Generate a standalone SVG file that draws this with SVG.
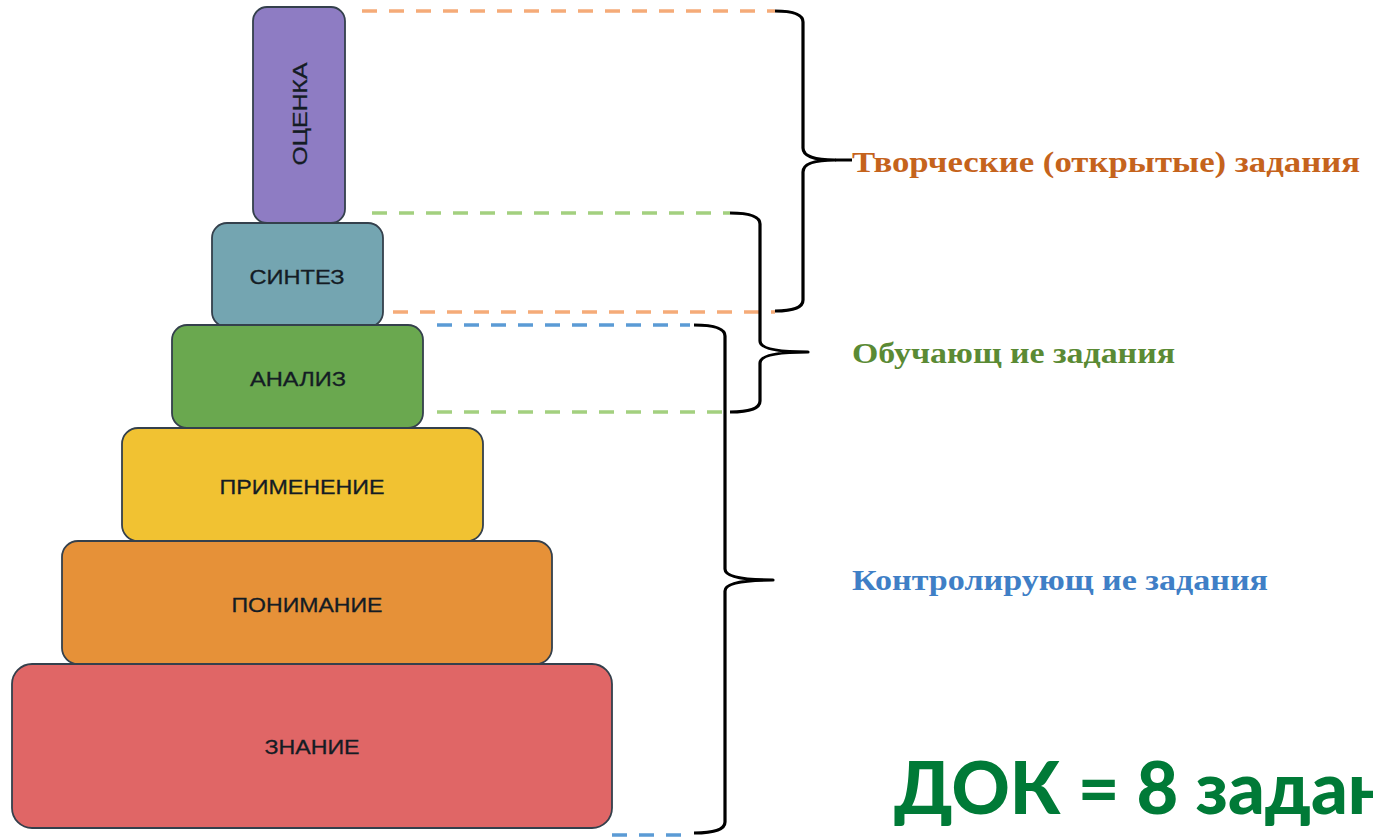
<svg xmlns="http://www.w3.org/2000/svg" width="1373" height="840" viewBox="0 0 1373 840">
<style>
.box{stroke:#34404c;stroke-width:1.8}
.lbl{font-family:"Liberation Sans",Arial,sans-serif;font-size:21px;fill:#141c24;stroke:#141c24;stroke-width:0.3;text-anchor:middle;dominant-baseline:central}
.dash{fill:none;stroke-width:3.5;stroke-dasharray:15 12}
.br{fill:none;stroke:#000;stroke-width:3.2;stroke-linejoin:round}
.cap{font-family:"Liberation Serif","Times New Roman",serif;font-weight:bold;font-size:30px}
</style>
<rect width="1373" height="840" fill="#fff"/>
<g id="node-otsenka"><rect class="box" x="253" y="7" width="92" height="216" rx="14" fill="#8e7cc3"/><text class="lbl" transform="translate(299,114) rotate(-90)" textLength="103" lengthAdjust="spacingAndGlyphs">ОЦЕНКА</text></g>
<g id="node-sintez"><rect class="box" x="212" y="223" width="171" height="104" rx="15" fill="#74a5b1"/><text class="lbl" x="297" y="276" textLength="95" lengthAdjust="spacingAndGlyphs">СИНТЕЗ</text></g>
<g id="node-analiz"><rect class="box" x="172" y="325" width="251" height="103" rx="15" fill="#6aa84f"/><text class="lbl" x="298" y="378" textLength="96" lengthAdjust="spacingAndGlyphs">АНАЛИЗ</text></g>
<g id="node-primenenie"><rect class="box" x="122" y="428" width="361" height="113" rx="16" fill="#f1c232"/><text class="lbl" x="302" y="486" textLength="165" lengthAdjust="spacingAndGlyphs">ПРИМЕНЕНИЕ</text></g>
<g id="node-ponimanie"><rect class="box" x="62" y="541" width="490" height="123" rx="16" fill="#e69138"/><text class="lbl" x="307" y="604" textLength="151" lengthAdjust="spacingAndGlyphs">ПОНИМАНИЕ</text></g>
<g id="node-znanie"><rect class="box" x="12" y="664" width="600" height="164" rx="20" fill="#e06666"/><text class="lbl" x="312" y="746" textLength="95" lengthAdjust="spacingAndGlyphs">ЗНАНИЕ</text></g>
<g id="connectors">
<line class="dash" stroke="#f5ab78" x1="362" y1="11" x2="775" y2="11"/>
<line class="dash" stroke="#f5ab78" x1="393" y1="312" x2="775" y2="312"/>
<line class="dash" stroke="#a3d07f" x1="372" y1="213" x2="730" y2="213"/>
<line class="dash" stroke="#a3d07f" x1="437" y1="412" x2="730" y2="412"/>
<line class="dash" stroke="#5b9bd5" x1="437" y1="325" x2="690" y2="325" stroke-dasharray="2 13 15 12 15 12 15 12 15 12 15 12 15 12 15 12 15 12 15 12"/>
<line class="dash" stroke="#5b9bd5" x1="612" y1="835" x2="690" y2="835"/>
<path class="br" d="M775 11 Q803 11 803 22 L803 148 Q803 160 835 160 Q803 160 803 172 L803 300 Q803 311 775 311"/>
<path class="br" d="M730 213 Q760 213 760 224 L760 341 Q760 352 808 352 Q760 352 760 363 L760 401 Q760 412 730 412"/>
<path class="br" d="M694 325 Q725 325 725 336 L725 569 Q725 580 773 580 Q725 580 725 591 L725 822 Q725 833 694 833"/>
<line x1="835" y1="160" x2="852" y2="160" stroke="#000" stroke-width="3"/>
</g>
<g id="labels">
<text class="cap" x="852" y="172" fill="#c5631c" textLength="508" lengthAdjust="spacingAndGlyphs">Творческие (открытые) задания</text>
<text class="cap" x="852" y="363" fill="#5a8a34" textLength="323" lengthAdjust="spacingAndGlyphs">Обучающ ие задания</text>
<text class="cap" x="852" y="590" fill="#3f7fc6" textLength="416" lengthAdjust="spacingAndGlyphs">Контролирующ ие задания</text>
<text x="894" y="814" fill="#007a37" font-family="Lato,'Liberation Sans',sans-serif" font-weight="900" font-size="72">ДОК = 8 задан</text>
</g>
</svg>
